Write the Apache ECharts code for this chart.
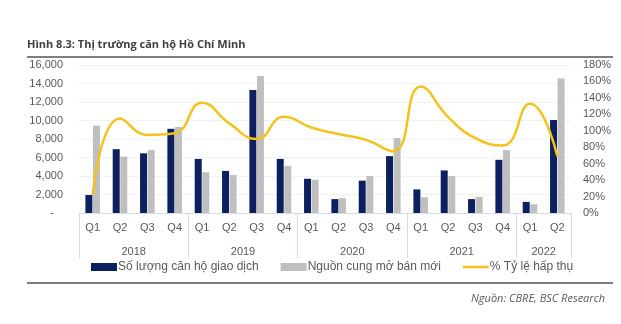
<!DOCTYPE html>
<html>
<head>
<meta charset="utf-8">
<script src="https://cdn.jsdelivr.net/npm/echarts@6/dist/echarts.min.js"></script>
<style>
  html, body { margin: 0; padding: 0; background: #ffffff; }
  #chart { width: 621px; height: 324px; }
</style>
</head>
<body>
<div id="chart"></div>
<script>
// Quarterly apartment market data, Ho Chi Minh City
const quarters = ['Q1','Q2','Q3','Q4','Q1','Q2','Q3','Q4','Q1','Q2','Q3','Q4','Q1','Q2','Q3','Q4','Q1','Q2'];
const years = ['2018', '2019', '2020', '2021', '2022'];
const quartersPerYear = [4, 4, 4, 4, 2];
const sold = [1950, 6900, 6450, 9100, 5850, 4550, 13300, 5850, 3700, 1500, 3500, 6150, 2550, 4600, 1500, 5750, 1200, 10050];
const supply = [9450, 6100, 6800, 9300, 4400, 4100, 14800, 5100, 3600, 1600, 4000, 8100, 1700, 4000, 1750, 6800, 950, 14550];
const absorption = [22, 115, 95, 97, 134, 109, 90, 117, 104, 96, 89, 75, 154, 117, 91, 82, 133, 69];
const leftTicks = { min: 0, max: 16000, step: 2000 };
const rightTicks = { min: 0, max: 180, step: 20 };

// Centre position (in quarter units) of each year label on the year axis
const yearCentres = {};
let acc = 0;
quartersPerYear.forEach((n, i) => { yearCentres[acc + n / 2] = years[i]; acc += n; });
const yearBoundaries = [];
acc = 0;
quartersPerYear.forEach(n => { yearBoundaries.push(acc); acc += n; });

const FONT = '"Liberation Sans", Arial, sans-serif';
const AXIS_BLUE = '#d5dce8';
const TEXT = '#595959';
const GOLD = '#f3c21b';

const chart = echarts.init(document.getElementById('chart'), null, { renderer: 'canvas' });
chart.setOption({
  animation: false,
  textStyle: { fontFamily: FONT },
  title: {
    text: 'Hình 8.3: Thị trường căn hộ Hồ Chí Minh',
    left: 22, top: 34,
    textStyle: { fontFamily: '"Open Sans", sans-serif', fontSize: 11, fontWeight: 'bold', color: '#404040' }
  },
  graphic: [
    { type: 'line', shape: { x1: 27, y1: 57, x2: 613, y2: 57 }, style: { stroke: '#555555', lineWidth: 1.5 } },
    { type: 'line', shape: { x1: 27, y1: 283, x2: 613, y2: 283 }, style: { stroke: '#555555', lineWidth: 1.5 } },
    { type: 'text', right: 16, top: 293,
      style: { text: 'Nguồn: CBRE, BSC Research', fill: '#595959', font: 'italic 11px "Open Sans", sans-serif' } }
  ],
  legend: {
    bottom: 46, left: 86,
    itemGap: 22,
    itemWidth: 26, itemHeight: 8,
    textStyle: { fontFamily: FONT, fontSize: 12, color: TEXT, padding: [0, 0, 0, -4] },
    data: [
      { name: 'Số lượng căn hộ giao dịch', icon: 'rect' },
      { name: 'Nguồn cung mở bán mới', icon: 'rect' },
      { name: '% Tỷ lệ hấp thụ', icon: 'path://M0,0 L30,0 L30,3 L0,3 Z', itemStyle: { color: GOLD } }
    ]
  },
  grid: { left: 79, right: 50, top: 65, bottom: 111, containLabel: false },
  xAxis: [
    {
      type: 'category',
      data: quarters,
      axisLine: { lineStyle: { color: AXIS_BLUE, width: 1 } },
      axisTick: {
        show: true, length: 45, lineStyle: { color: AXIS_BLUE },
        interval: (i) => yearBoundaries.indexOf(i) !== -1
      },
      axisLabel: { color: TEXT, fontSize: 11, margin: 9, interval: 0 },
      splitLine: { show: false }
    },
    {
      type: 'value',
      position: 'bottom',
      offset: 33,
      min: 0, max: quarters.length, interval: 1,
      axisLine: { show: false },
      axisTick: { show: false },
      splitLine: { show: false },
      axisLabel: {
        color: TEXT, fontSize: 11, margin: 0,
        showMinLabel: true, showMaxLabel: true,
        formatter: (v) => yearCentres[v] || ''
      }
    }
  ],
  yAxis: [
    {
      type: 'value',
      min: leftTicks.min, max: leftTicks.max, interval: leftTicks.step,
      axisLine: { show: false }, axisTick: { show: false },
      splitLine: { show: true, lineStyle: { color: '#f2f2f2' } },
      axisLabel: {
        color: TEXT, fontSize: 11, margin: 16,
        formatter: (v) => v === 0 ? '-   ' : v.toLocaleString('en-US')
      }
    },
    {
      type: 'value',
      min: rightTicks.min, max: rightTicks.max, interval: rightTicks.step,
      axisLine: { show: false }, axisTick: { show: false },
      splitLine: { show: false },
      axisLabel: { color: TEXT, fontSize: 11, margin: 12, formatter: '{value}%' }
    }
  ],
  series: [
    {
      name: 'Số lượng căn hộ giao dịch',
      type: 'bar', data: sold, barWidth: 7, barGap: '8%',
      itemStyle: { color: '#0c1f5e' }
    },
    {
      name: 'Nguồn cung mở bán mới',
      type: 'bar', data: supply, barWidth: 7,
      itemStyle: { color: '#bfbfbf' }
    },
    {
      name: '% Tỷ lệ hấp thụ',
      type: 'line', yAxisIndex: 1, data: absorption,
      smooth: 0.5, symbol: 'none', z: 5,
      lineStyle: { color: GOLD, width: 2.5 },
      itemStyle: { color: GOLD }
    }
  ]
});
</script>
</body>
</html>
